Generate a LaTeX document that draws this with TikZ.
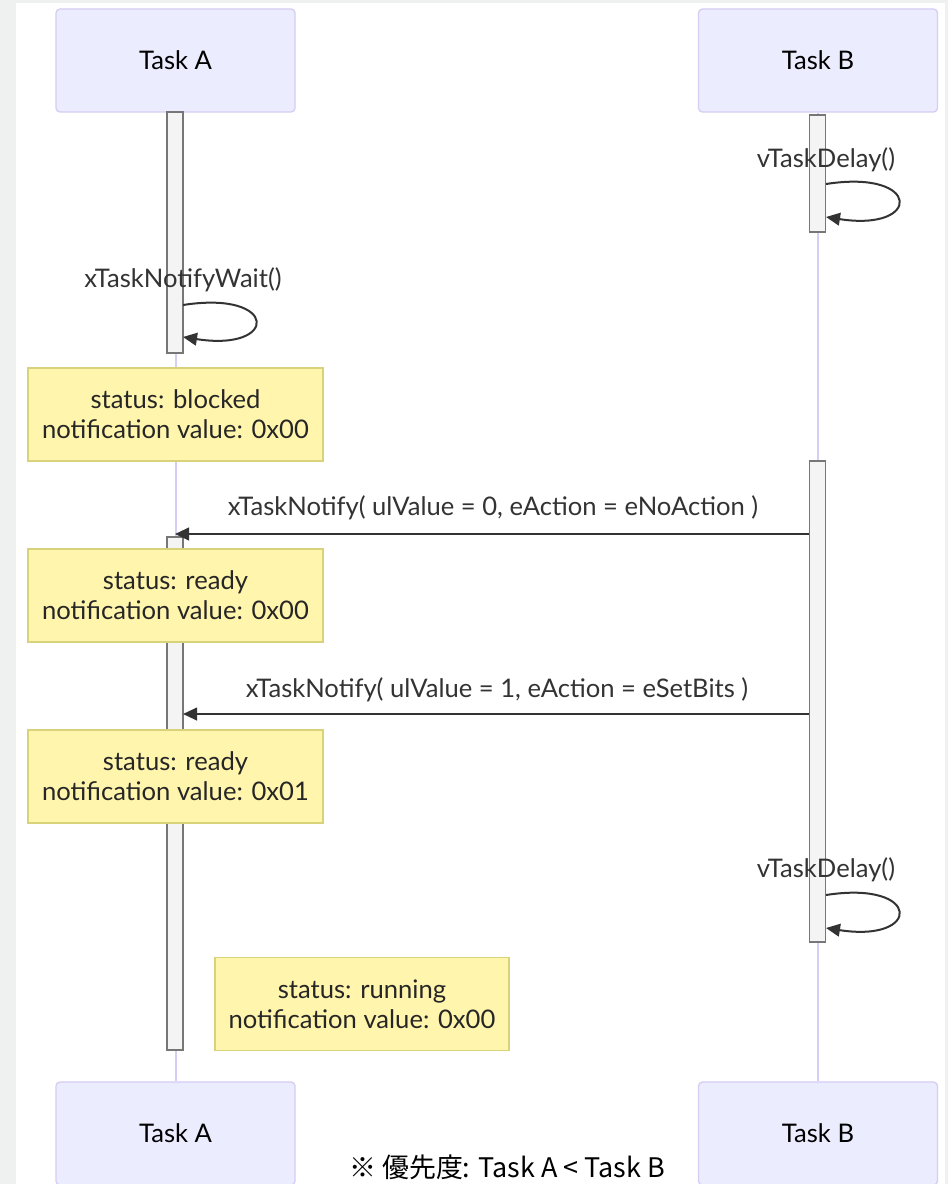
\documentclass[tikz,border=0pt]{standalone}
\usepackage{fontspec}
\setmainfont{Lato}
\newfontfamily\cjk{Noto Sans CJK JP}
\usetikzlibrary{arrows.meta}
\definecolor{bgc}{HTML}{EFF1F1}
\definecolor{actfill}{HTML}{ECECFF}
\definecolor{actdraw}{HTML}{D6CCF4}
\definecolor{lifec}{HTML}{D6CCF4}
\definecolor{barfill}{HTML}{F4F4F4}
\definecolor{bardraw}{HTML}{777777}
\definecolor{notefill}{HTML}{FFF5AD}
\definecolor{notedraw}{HTML}{D8D27A}
\definecolor{msgc}{HTML}{333333}
\newcommand{\mainfs}{\fontsize{19.2}{22.5}\selectfont}
\tikzset{
  actor/.style={draw=actdraw, fill=actfill, line width=1pt, rounded corners=3pt,
    minimum width=179.25pt, minimum height=77.25pt, inner sep=0pt, font=\mainfs, text=black},
  life/.style={draw=lifec, line width=1.5pt},
  bar/.style={draw=bardraw, fill=barfill, line width=0.9pt, minimum width=12pt, inner sep=0pt},
  note/.style={draw=notedraw, fill=notefill, line width=1pt, minimum width=221.25pt,
    minimum height=69.75pt, inner sep=0pt, align=center, font=\mainfs, text=black!85},
  msg/.style={draw=msgc, line width=1.5pt, -{Triangle[length=10.5pt,width=9.5pt]}},
  lbl/.style={font=\mainfs, text=msgc, inner sep=0pt}
}
\begin{document}
\begin{tikzpicture}[x=0.75pt,y=-0.75pt]
\fill[bgc] (0,0) rectangle (948,1184);
\fill[white] (16,3) rectangle (945,1184);
\useasboundingbox (0,0) rectangle (948,1184);

% actors
\node[actor] (tA) at (175.5,60.5) {Task A};
\node[actor] (tB) at (818,60.5) {Task B};
\node[actor] (bA) at (175.5,1133.5) {Task A};
\node[actor] (bB) at (818,1133.5) {Task B};

% lifelines
\draw[life] (tA.south) -- (bA.north);
\draw[life] (tB.south) -- (bB.north);

% activation bars
\node[bar, minimum height=180.75pt] (a1) at (175,232.5) {};
\node[bar, minimum height=384.75pt] (a2) at (175,793.5) {};
\node[bar, minimum height=87.75pt] (b1) at (817.5,173.5) {};
\node[bar, minimum height=360.75pt] (b2) at (817.5,701.5) {};

% self loop A
\node[lbl] (l1) at (183,280) {xTaskNotifyWait()};
\coordinate (l1s) at (183,305);
\coordinate (l1e) at (183,337);
\draw[msg] (l1s) .. controls (279,290) and (279,352) .. (l1e);

% self loop B1
\node[lbl] (l2) at (826,160) {vTaskDelay()};
\coordinate (l2s) at (826,184);
\coordinate (l2e) at (826,217);
\draw[msg] (l2s) .. controls (922,169) and (922,232) .. (l2e);

% notes
\node[note] (n1) at (175.5,414.5) {status: blocked\\notification value: 0x00};

% message 1
\node[lbl] (m1l) at (493,508) {xTaskNotify( ulValue = 0, eAction = eNoAction )};
\coordinate (m1e) at (175,534);
\draw[msg] (b2.west |- m1e) -- (m1e);

\node[note] (n2) at (175.5,595.5) {status: ready\\notification value: 0x00};

% message 2
\node[lbl] (m2l) at (497,690) {xTaskNotify( ulValue = 1, eAction = eSetBits )};
\coordinate (m2e) at (183,714);
\draw[msg] (b2.west |- m2e) -- (m2e);

\node[note] (n3) at (175.5,776.5) {status: ready\\notification value: 0x01};

% self loop B2
\node[lbl] (l3) at (826,870) {vTaskDelay()};
\coordinate (l3s) at (826,895);
\coordinate (l3e) at (826,928);
\draw[msg] (l3s) .. controls (922,880) and (922,943) .. (l3e);

\node[note, minimum width=220.5pt] (n4) at (362,1004) {status: running\\notification value: 0x00};

% footer
\node[font=\cjk\fontsize{20.2}{24}\selectfont, text=black, inner sep=0pt] (foot) at (507,1167) {※ 優先度: Task A < Task B};
\end{tikzpicture}
\end{document}
